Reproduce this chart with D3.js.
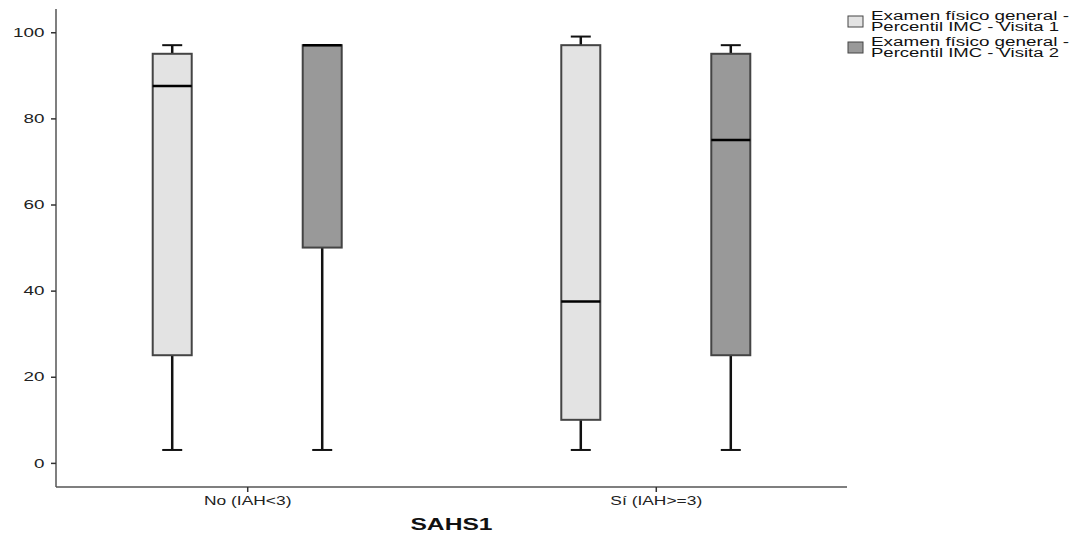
<!DOCTYPE html>
<html lang="en">
<head>
    <meta charset="UTF-8">
    <title>SAHS1 boxplot</title>
    <script src="https://cdn.jsdelivr.net/npm/d3@7"></script>
    <style>
        body { margin: 0; background: white; }
        svg { font-family: "Liberation Sans", Arial, sans-serif; }
    </style>
</head>
<body>
<svg id="chart" width="1079" height="540"></svg>
<script>
    // data
    var categories = ["No (IAH<3)", "Sí (IAH>=3)"];
    var series = ["Examen físico general - Percentil IMC - Visita 1",
                  "Examen físico general - Percentil IMC - Visita 2"];
    var seriesColors = ["#e3e3e3", "#999999"];
    // [min, q1, median, q3, max] per category
    var visita1 = [[3, 25, 87.5, 95, 97], [3, 10, 37.5, 97, 99]];
    var visita2 = [[3, 50, 97, 97, 97], [3, 25, 75, 95, 97]];
    var yTicks = [0, 20, 40, 60, 80, 100];
    var xTitle = "SAHS1";

    var svg = d3.select("#chart");
    var mLeft = 56, mRight = 847, mTop = 9, mBottom = 487;
    var stretch = "scale(1.45,1)"; // the source image is stretched sideways

    var y = d3.scaleLinear().domain([-5.6, 105.4]).range([mBottom, mTop]);
    var x = d3.scalePoint().domain(categories).range([mLeft, mRight]).padding(0.468);
    var sub = d3.scalePoint().domain([0, 1]).range([-75, 75]);
    var boxW = 39;

    // y axis
    var yAxis = svg.append("g")
        .attr("transform", "translate(" + mLeft + ",0)")
        .call(d3.axisLeft(y).tickValues(yTicks).tickSize(5).tickPadding(3));
    yAxis.select(".domain").attr("d", "M0," + mTop + "V" + mBottom).attr("stroke", "#555").attr("stroke-width", 1.5);
    yAxis.selectAll(".tick line").attr("stroke", "#333").attr("stroke-width", 1.5);
    yAxis.selectAll(".tick text").attr("font-size", 13).attr("fill", "#222").attr("transform", stretch);

    // x axis
    var xAxis = svg.append("g")
        .attr("transform", "translate(0," + mBottom + ")")
        .call(d3.axisBottom(x).tickSize(5).tickPadding(4));
    xAxis.select(".domain").attr("d", "M" + mLeft + ",0H" + mRight).attr("stroke", "#555").attr("stroke-width", 1.5);
    xAxis.selectAll(".tick line").attr("stroke", "#333").attr("stroke-width", 1.5);
    xAxis.selectAll(".tick text").attr("font-size", 12).attr("fill", "#222").attr("transform", stretch);

    svg.append("g")
        .attr("transform", "translate(" + ((mLeft + mRight) / 2) + ",530)")
        .append("text")
        .attr("text-anchor", "middle")
        .attr("font-size", 17)
        .attr("font-weight", "bold")
        .attr("fill", "#111")
        .attr("transform", stretch)
        .text(xTitle);

    // boxes
    var boxes = [];
    [visita1, visita2].forEach(function(vals, s) {
        vals.forEach(function(v, i) {
            boxes.push({cat: categories[i], s: s, v: v});
        });
    });

    var g = svg.append("g").selectAll("g").data(boxes).enter().append("g")
        .attr("transform", function(d) { return "translate(" + (x(d.cat) + sub(d.s)) + ",0)"; });

    // whiskers
    g.append("line")
        .attr("y1", function(d) { return y(d.v[0]); })
        .attr("y2", function(d) { return y(d.v[1]); })
        .attr("stroke", "#111").attr("stroke-width", 2.5);
    g.append("line")
        .attr("y1", function(d) { return y(d.v[3]); })
        .attr("y2", function(d) { return y(d.v[4]); })
        .attr("stroke", "#111").attr("stroke-width", 2.5);
    g.append("line")
        .attr("x1", -10).attr("x2", 10)
        .attr("y1", function(d) { return y(d.v[0]); })
        .attr("y2", function(d) { return y(d.v[0]); })
        .attr("stroke", "#111").attr("stroke-width", 2);
    g.append("line")
        .attr("x1", -10).attr("x2", 10)
        .attr("y1", function(d) { return y(d.v[4]); })
        .attr("y2", function(d) { return y(d.v[4]); })
        .attr("stroke", "#111").attr("stroke-width", 2);

    g.append("rect")
        .attr("x", -boxW / 2)
        .attr("width", boxW)
        .attr("y", function(d) { return y(d.v[3]); })
        .attr("height", function(d) { return y(d.v[1]) - y(d.v[3]); })
        .attr("fill", function(d) { return seriesColors[d.s]; })
        .attr("stroke", "#444").attr("stroke-width", 2);

    g.append("line")
        .attr("x1", -boxW / 2).attr("x2", boxW / 2)
        .attr("y1", function(d) { return y(d.v[2]); })
        .attr("y2", function(d) { return y(d.v[2]); })
        .attr("stroke", "#000").attr("stroke-width", 2.5);

    // legend
    var leg = svg.append("g").selectAll("g").data(series).enter().append("g")
        .attr("transform", function(d, i) { return "translate(848," + (16 + i * 26) + ")"; });
    leg.append("rect")
        .attr("width", 15).attr("height", 11)
        .attr("fill", function(d, i) { return seriesColors[i]; })
        .attr("stroke", "#444").attr("stroke-width", 1);
    leg.each(function(d) {
        var parts = d.split(" - ");
        var t = d3.select(this).append("text")
            .attr("font-size", 12).attr("fill", "#111");
        t.append("tspan").attr("x", 23).attr("y", 4)
            .attr("textLength", 198).attr("lengthAdjust", "spacingAndGlyphs")
            .text(parts[0] + " -");
        t.append("tspan").attr("x", 23).attr("y", 15)
            .attr("textLength", 188).attr("lengthAdjust", "spacingAndGlyphs")
            .text(parts[1] + " - " + parts[2]);
    });
</script>
</body>
</html>
